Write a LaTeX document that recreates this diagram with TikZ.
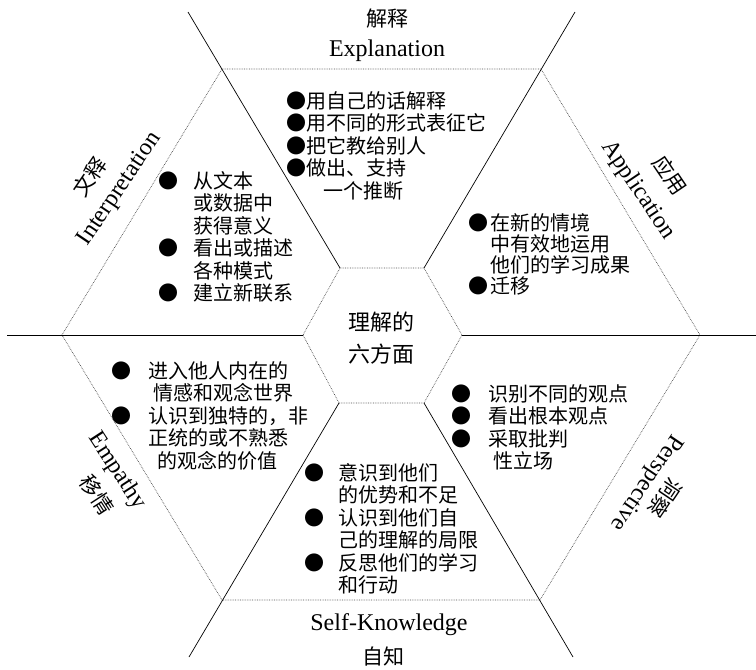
\documentclass[tikz,border=0pt]{standalone}
\usepackage{fontspec}
\setmainfont{Liberation Serif}
\newfontfamily\cjk{Noto Sans CJK SC}
\newcommand\bul[1]{\makebox[#1][l]{●}}
\newcommand\ind[1]{\hspace*{#1}}
\begin{document}
\begin{tikzpicture}[x=1pt,y=-1pt,
  spoke/.style={line width=0.7pt, black},
  hexedge/.style={densely dotted, line width=0.7pt, black!70},
  body/.style={font=\cjk\fontsize{20}{22.5}\selectfont, align=left, anchor=north west, inner sep=0pt},
  eng/.style={font=\fontsize{24}{28}\selectfont, inner sep=0pt},
  chn/.style={font=\cjk\fontsize{21}{24}\selectfont, inner sep=0pt}]
\useasboundingbox (0,0) rectangle (756,670);
% outer hexagon
\coordinate (O1) at (222,69);
\coordinate (O2) at (541,69);
\coordinate (O3) at (700,335);
\coordinate (O4) at (540,600);
\coordinate (O5) at (222,600);
\coordinate (O6) at (62,335);
% inner hexagon
\coordinate (I1) at (340,268);
\coordinate (I2) at (424,268);
\coordinate (I3) at (462,335);
\coordinate (I4) at (424,403);
\coordinate (I5) at (339,403);
\coordinate (I6) at (303,335);
% spoke ends
\coordinate (E1) at (188,12);
\coordinate (E2) at (575,12);
\coordinate (E3) at (756,335);
\coordinate (E4) at (573,657);
\coordinate (E5) at (189,657);
\coordinate (E6) at (7,335);
\draw[hexedge] (O1) -- (O2) -- (O3) -- (O4) -- (O5) -- (O6) -- cycle;
\draw[hexedge] (I1) -- (I2) -- (I3) -- (I4) -- (I5) -- (I6) -- cycle;
\draw[spoke] (I1) -- (E1);
\draw[spoke] (I2) -- (E2);
\draw[spoke] (I3) -- (E3);
\draw[spoke] (I4) -- (E4);
\draw[spoke] (I5) -- (E5);
\draw[spoke] (I6) -- (E6);
% center
\node[font=\cjk\fontsize{22}{32}\selectfont, align=center, inner sep=0pt] (ctr) at (381,338) {理解的\\六方面};
% facet labels
\node[chn] (expC) at (387,19) {解释};
\node[eng] (expE) at (387,51) {Explanation};
\node[eng] (skE) at (389,625) {Self-Knowledge};
\node[chn] (skC) at (383,657) {自知};
\node[eng, rotate=56] (intE) at (120,189) {Interpretation};
\node[chn, rotate=56] (intC) at (90,177) {文释};
\node[eng, rotate=-56] (appE) at (638,190) {Application};
\node[chn, rotate=-56] (appC) at (670,175) {应用};
\node[eng, rotate=-57] (empE) at (117,471) {Empathy};
\node[chn, rotate=-57] (empC) at (97,495) {移情};
\node[eng, rotate=236] (perE) at (646,482) {Perspective};
\node[chn, rotate=236] (perC) at (665,498) {洞察};
% bullet texts
\node[body] (expT) at (286,91) {●用自己的话解释\\●用不同的形式表征它\\●把它教给别人\\●做出、支持\\\ind{1.85em}一个推断};
\node[body] (intT) at (158,171) {\bul{35pt}从文本\\\ind{35pt}或数据中\\\ind{35pt}获得意义\\\bul{35pt}看出或描述\\\ind{35pt}各种模式\\\bul{35pt}建立新联系};
\node[body, font=\cjk\fontsize{20}{21.2}\selectfont] (appT) at (468,213) {\bul{22pt}在新的情境\\\ind{22pt}中有效地运用\\\ind{22pt}他们的学习成果\\\bul{22pt}迁移};
\node[body] (empT) at (111,361) {\bul{37pt}进入他人内在的\\\ind{42pt}情感和观念世界\\\bul{37pt}认识到独特的，非\\\ind{37pt}正统的或不熟悉\\\ind{46pt}的观念的价值};
\node[body] (perT) at (451,384) {\bul{37pt}识别不同的观点\\\bul{37pt}看出根本观点\\\bul{37pt}采取批判\\\ind{42pt}性立场};
\node[body] (skT) at (304,463) {\bul{34pt}意识到他们\\\ind{34pt}的优势和不足\\\bul{34pt}认识到他们自\\\ind{34pt}己的理解的局限\\\bul{34pt}反思他们的学习\\\ind{34pt}和行动};
\end{tikzpicture}
\end{document}
